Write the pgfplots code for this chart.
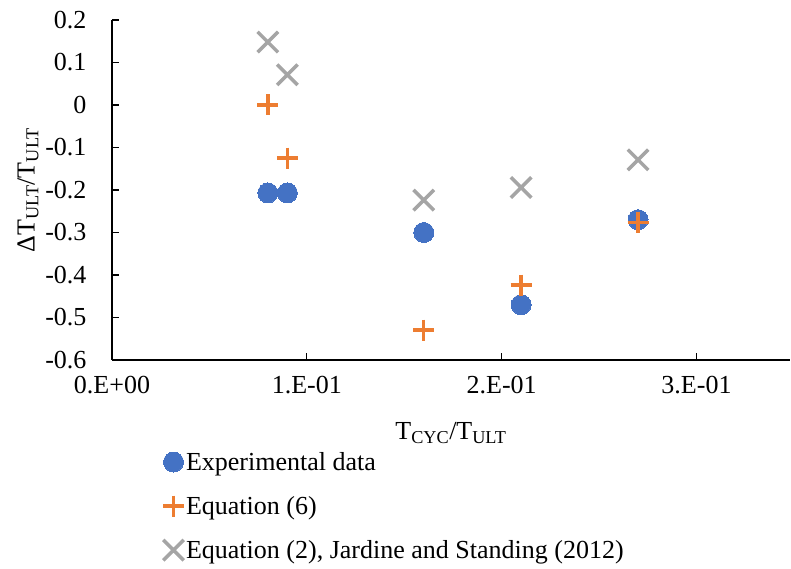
\documentclass[border=0pt]{standalone}
\usepackage{pgfplots}
\pgfplotsset{compat=1.18}
\usepackage{fontspec}
\setmainfont{Liberation Serif}

\definecolor{expblue}{HTML}{4472C4}
\definecolor{eqorange}{HTML}{ED7D31}
\definecolor{jsgray}{HTML}{A5A5A5}

\begin{document}
\begin{tikzpicture}
	\begin{axis}[
		name=ax,
		scale only axis,
		width=678pt,
		height=340pt,
		xmin=0, xmax=0.348,
		ymin=-0.6, ymax=0.2,
		axis x line=bottom,
		axis y line=left,
		axis line style={-, line width=1.3pt, black},
		tick style={line width=1.3pt, black},
		tick align=inside,
		major tick length=7pt,
		xtick={0,0.1,0.2,0.3},
		xticklabels={0.E+00,1.E-01,2.E-01,3.E-01},
		ytick={-0.6,-0.5,-0.4,-0.3,-0.2,-0.1,0,0.1,0.2},
		yticklabels={-0.6,-0.5,-0.4,-0.3,-0.2,-0.1,0,0.1,0.2},
		font=\fontsize{26}{31}\selectfont,
		xticklabel style={yshift=-13pt},
		yticklabel style={xshift=-22pt},
		xlabel={T\textsubscript{CYC}/T\textsubscript{ULT}},
		ylabel={ΔT\textsubscript{ULT}/T\textsubscript{ULT}},
		xlabel style={at={(axis description cs:0.5,-0.215)}, anchor=center},
		ylabel style={at={(axis description cs:0,0.5)}, anchor=center, yshift=84pt},
		clip=false,
		legend cell align=left,
		legend style={
			at={(axis description cs:0.075,-0.265)},
			anchor=north west,
			draw=none,
			fill=none,
			font=\fontsize{26}{31}\selectfont,
			row sep=20.5pt,
			inner sep=0pt,
		},
		legend image code/.code={\draw[#1] plot coordinates {(0pt,0pt)};},
	]
		\addplot[only marks, color=expblue, mark=*, mark size=10pt,
			mark options={fill=expblue, draw=expblue, line width=0pt}]
			coordinates {
			(0.08, -0.207)
			(0.09, -0.207)
			(0.16, -0.300)
			(0.21, -0.470)
			(0.27, -0.270)
		};
		\addlegendentry{Experimental data}
		\addplot[only marks, color=eqorange, mark=+, mark size=10.5pt,
			mark options={draw=eqorange, line width=3.5pt}]
			coordinates {
			(0.08, 0.000)
			(0.09, -0.125)
			(0.16, -0.530)
			(0.21, -0.424)
			(0.27, -0.277)
		};
		\addlegendentry{Equation (6)}
		\addplot[only marks, color=jsgray, mark=x, mark size=14.5pt,
			mark options={draw=jsgray, line width=3.5pt}]
			coordinates {
			(0.08, 0.148)
			(0.09, 0.071)
			(0.16, -0.224)
			(0.21, -0.194)
			(0.27, -0.129)
		};
		\addlegendentry{Equation (2), Jardine and Standing (2012)}
	\end{axis}
	\pgfresetboundingbox
	\path ([xshift=-112pt,yshift=-209pt]ax.south west) rectangle ([xshift=1pt,yshift=20pt]ax.north east);
\end{tikzpicture}
\end{document}
